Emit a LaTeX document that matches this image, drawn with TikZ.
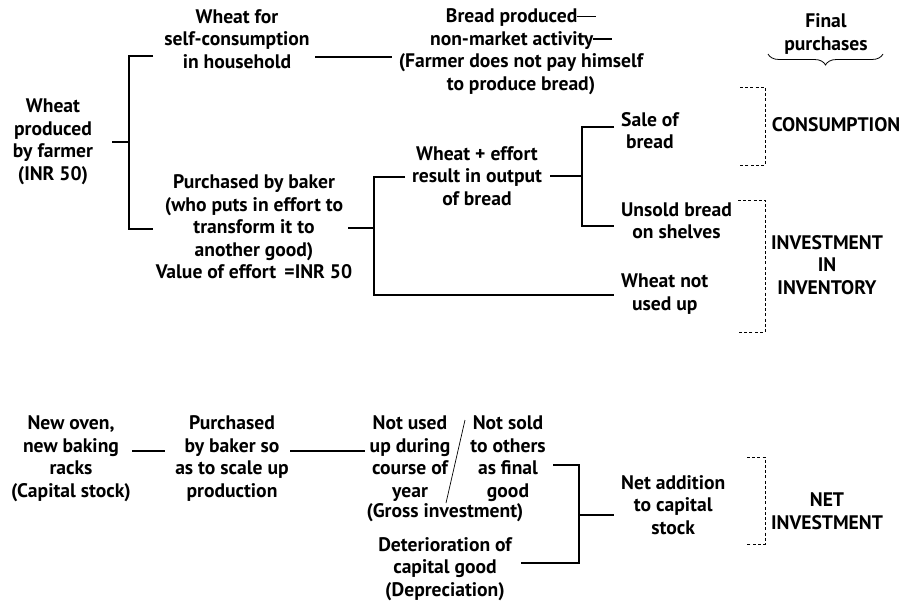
\documentclass[tikz,border=0pt]{standalone}
\usepackage{fontspec}
\setmainfont{PT Sans}
\usetikzlibrary{decorations.pathreplacing}
\newcommand{\longdash}{\rule[0.26em]{0.95em}{0.085em}}
\tikzset{
  txt/.style={align=center, inner sep=0pt, font=\fontsize{19.6}{22.5}\selectfont\bfseries},
  txtw/.style={txt, anchor=west},
  conn/.style={line width=1.1pt},
  dashline/.style={line width=0.6pt, dash pattern=on 3pt off 2.2pt},
}
\begin{document}
\begin{tikzpicture}[x=1pt,y=-1pt]
\useasboundingbox (0,0) rectangle (907,602);
% ---- top section nodes
\node[txt] (farmer) at (53,142) {Wheat\\produced\\by farmer\\(INR 50)};
\node[txt] (self) at (237,39) {Wheat for\\self-consumption\\in household};
\node[txt] (bread) at (521,51.5) {Bread produced\longdash\\non-market activity\longdash\\(Farmer does not pay himself\\to produce bread)};
\node[txt] (baker) at (254,227) {Purchased by baker\\(who puts in effort to\\transform it to\\another good)\\Value of effort \,=INR 50};
\node[txt] (final) at (826,34) {Final\\purchases};
\node[txt] (wheff) at (477,176) {Wheat + effort\\result in output\\of bread};
\node[txtw] (sale) at (621,130.5) {Sale of\\bread};
\node[txtw] (unsold) at (621,221) {Unsold bread\\on shelves};
\node[txtw] (notused) at (621,294) {Wheat not\\used up};
\node[txt] (cons) at (836,125) {CONSUMPTION};
\node[txt] (inv) at (827,265) {INVESTMENT\\IN\\INVENTORY};
% ---- bottom section nodes
\node[txt] (oven) at (71,458.5) {New oven,\\new baking\\racks\\(Capital stock)};
\node[txt] (purch) at (232,458.5) {Purchased\\by baker so\\as to scale up\\production};
\node[txt] (nused) at (410,458.5) {Not used\\up during\\course of\\year};
\node[txt] (nsold) at (508,458.5) {Not sold\\to others\\as final\\good};
\node[txt] (gross) at (445,513) {(Gross investment)};
\node[txt] (deter) at (445,569) {Deterioration of\\capital good\\(Depreciation)};
\node[txtw] (netadd) at (621,505) {Net addition\\to capital\\stock};
\node[txt] (netinv) at (827,511) {NET\\INVESTMENT};
% ---- coordinates
\coordinate (f0) at (112,142); \coordinate (f1) at (129,142);
\coordinate (fa) at (153,56); \coordinate (fb) at (153,229);
\coordinate (s0) at (315,57); \coordinate (s1) at (392,57);
\coordinate (b0) at (348,228); \coordinate (b1) at (374,228);
\coordinate (ba) at (405,177); \coordinate (bb) at (614,295);
\coordinate (w0) at (550,176); \coordinate (w1) at (582,176);
\coordinate (wa) at (614,127); \coordinate (wb) at (614,226);
\coordinate (o0) at (132,451); \coordinate (o1) at (165,451);
\coordinate (p0) at (290,451); \coordinate (p1) at (365,451);
\coordinate (sl0) at (465,420); \coordinate (sl1) at (446,503);
\coordinate (na) at (553,465); \coordinate (nb) at (521,563);
\coordinate (n1) at (579,515); \coordinate (n2) at (614,515);
% ---- connectors
\draw[conn] (f0) -- (f1);
\draw[conn] (fa) -| (f1) |- (fb);
\draw[conn] (s0) -- (s1);
\draw[conn] (b0) -- (b1);
\draw[conn] (ba) -| (b1) |- (bb);
\draw[conn] (w0) -- (w1);
\draw[conn] (wa) -| (w1) |- (wb);
\draw[conn] (o0) -- (o1);
\draw[conn] (p0) -- (p1);
\draw[line width=0.7pt] (sl0) -- (sl1);
\draw[conn] (na) -| (n1) |- (nb);
\draw[conn] (n1) -- (n2);
% ---- dashed brackets
\draw[dashline] (740,87) -- (765,87) -- (765,165) -- (740,165);
\draw[dashline] (738,200) -- (765,200) -- (765,332) -- (738,332);
\draw[dashline] (747,457) -- (765,457) -- (765,544) -- (747,544);
% ---- brace
\draw[line width=0.8pt, decorate, decoration={brace, mirror, amplitude=11pt}] (768,54) -- (883,54);
\end{tikzpicture}
\end{document}
